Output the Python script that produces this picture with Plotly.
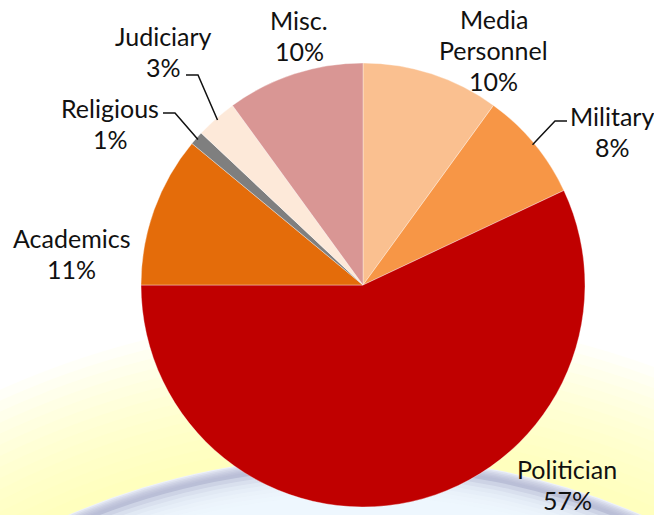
import math
import plotly.graph_objects as go

# ---- data ----
categories = ["Media Personnel", "Military", "Politician", "Academics", "Religious", "Judiciary", "Misc."]
values = [10, 8, 57, 11, 1, 3, 10]
label_lines = [["Media", "Personnel", "10%"], ["Military", "8%"], ["Politician", "57%"],
               ["Academics", "11%"], ["Religious", "1%"], ["Judiciary", "3%"], ["Misc.", "10%"]]
colors = ["#FAC090", "#F79646", "#C00000", "#E46C0A", "#7F7F7F", "#FDE9D9", "#D99694"]

W, H = 654, 515
CX, CY, R = 363, 285, 222  # pie geometry in pixels


def px(x):
    return x / W


def py(y):
    return 1 - y / H


fig = go.Figure()
fig.add_trace(go.Pie(
    labels=categories, values=values, sort=False, direction="clockwise", rotation=0,
    marker=dict(colors=colors, line=dict(color="rgba(255,255,255,0.6)", width=0.6)),
    textinfo="none", hoverinfo="label+percent", showlegend=False,
    domain=dict(x=[px(CX - R), px(CX + R)], y=[py(CY + R), py(CY - R)]),
))

# ---- background watermark (soft glow + arc) ----
shapes = []
BX, BY = 355, 1184


def circ(rad, fill, line=None):
    return dict(type="circle", xref="paper", yref="paper", layer="below",
                x0=px(BX - rad), x1=px(BX + rad), y0=py(BY + rad), y1=py(BY - rad),
                fillcolor=fill, line=line or dict(width=0))


for k in range(14):
    rad = 870 - k * 10
    shapes.append(circ(rad, "rgba(255,255,170,0.08)"))
shapes.append(circ(728, "rgba(238,242,250,1)"))
for k in range(6):
    shapes.append(circ(727 - k * 1.5, "rgba(170,175,205,0.2)"))
for k in range(8):
    shapes.append(circ(716 - k * 4, "rgba(240,250,255,0.35)"))

# ---- labels ----
FONT = dict(family="Lato, Calibri, sans-serif", size=25, color="#111111")
label_pos = {  # center x, first line y (pixels)
    "Media Personnel": (494, 19),
    "Military": (612, 116),
    "Politician": (567, 469),
    "Academics": (71, 238),
    "Religious": (110, 108),
    "Judiciary": (164, 36),
    "Misc.": (299, 20),
}
LINE_H = 31
annotations = []
for cat, lines in zip(categories, label_lines):
    x0, y0 = label_pos[cat]
    for i, t in enumerate(lines):
        annotations.append(dict(x=px(x0), y=py(y0 + i * LINE_H), xref="paper", yref="paper",
                                text=t, showarrow=False, xanchor="center", yanchor="middle",
                                borderpad=0, font=FONT))

# ---- leader lines, anchored on the slice mid-angles ----
total = sum(values)
cum = 0
mids = {}
for cat, v in zip(categories, values):
    mids[cat] = (cum + v / 2) / total * 2 * math.pi
    cum += v

leader_elbows = {  # (label end x, elbow x, y)
    "Judiciary": (186, 198, 75),
    "Religious": (163, 175, 113),
    "Military": (567, 555, 121),
}
for cat, (xs, xe, yl) in leader_elbows.items():
    a = mids[cat]
    tx = CX + (R - 2) * math.sin(a)
    ty = CY - (R - 2) * math.cos(a)
    path = f"M {px(xs)} {py(yl)} L {px(xe)} {py(yl)} L {px(tx)} {py(ty)}"
    shapes.append(dict(type="path", xref="paper", yref="paper", path=path,
                       line=dict(color="#111111", width=1.5), layer="above"))

fig.update_layout(
    width=W, height=H, margin=dict(l=0, r=0, t=0, b=0),
    paper_bgcolor="white", plot_bgcolor="white",
    shapes=shapes, annotations=annotations, showlegend=False,
)

fig.write_html("out.html")
